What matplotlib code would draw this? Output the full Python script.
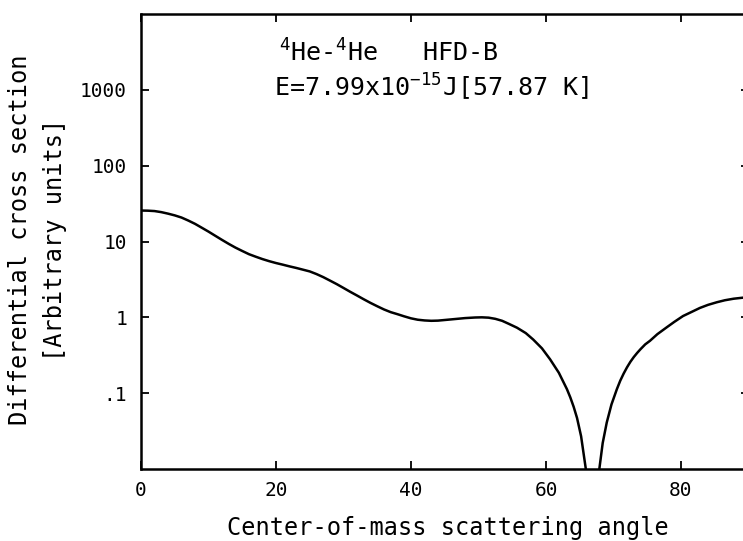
import matplotlib
matplotlib.use("Agg")
import matplotlib.pyplot as plt
import matplotlib.ticker as mticker

plt.rcParams["font.family"] = ["DejaVu Sans Mono"]
plt.rcParams["mathtext.fontset"] = "custom"
plt.rcParams["mathtext.rm"] = "DejaVu Sans Mono"
plt.rcParams["mathtext.it"] = "DejaVu Sans Mono"

# scattering angle (deg) and differential cross section (arb. units)
angle = [0, 1, 2, 3, 4, 5, 6, 7, 8, 9, 10, 11, 12, 13, 14, 15, 16, 17, 18, 19, 20,
         21, 22, 23, 24, 25, 26, 27, 28, 29, 30, 31, 32, 33, 34, 35, 36, 37, 38, 39,
         40, 41, 42, 43, 44, 46, 48, 49.5, 50.5, 51.5, 52.5, 53.5, 54.5, 55.7, 57,
         58.1, 59.4, 60.6, 61.9, 63.1, 63.6, 64.1, 64.6, 65.2, 65.9, 66.4, 66.9, 67.4,
         67.9, 68.4, 69, 69.7, 70.5, 71, 71.5, 72, 72.5, 73, 73.5, 74, 74.7, 75.4,
         76.5, 77.9, 79, 80.3, 81.5, 82.8, 84, 85.3, 86.5, 87.8, 89.5]
sigma = [25.6, 25.5, 25.2, 24.4, 23.3, 22.1, 20.7, 18.9, 17.1, 15.2, 13.5, 11.9,
         10.5, 9.3, 8.3, 7.5, 6.8, 6.3, 5.86, 5.5, 5.2, 4.95, 4.7, 4.48, 4.25, 4.03,
         3.72, 3.39, 3.05, 2.74, 2.44, 2.17, 1.94, 1.73, 1.55, 1.40, 1.27, 1.17, 1.10,
         1.03, 0.97, 0.93, 0.91, 0.90, 0.905, 0.94, 0.977, 0.995, 1.0, 0.99, 0.955,
         0.90, 0.82, 0.73, 0.62, 0.51, 0.39, 0.28, 0.186, 0.113, 0.088, 0.066, 0.047,
         0.027, 0.01, 0.003, 0.0003, 0.003, 0.01, 0.022, 0.041, 0.071, 0.113, 0.146,
         0.181, 0.219, 0.259, 0.299, 0.339, 0.38, 0.44, 0.49, 0.6, 0.74, 0.87, 1.04,
         1.17, 1.33, 1.46, 1.58, 1.68, 1.76, 1.83]

xticks = [0, 20, 40, 60, 80]
yticks = [0.1, 1, 10, 100, 1000]
ytick_labels = [".1", "1", "10", "100", "1000"]

fig = plt.figure(figsize=(7.43, 5.41), dpi=100)
ax = fig.add_axes([141 / 743, 72 / 541, 607.5 / 743, 455 / 541])

ax.plot(angle, sigma, color="black", linewidth=1.8)
ax.set_yscale("log")
ax.set_xlim(0, 90)
ax.set_ylim(0.01, 10000)

ax.set_xticks(xticks)
ax.set_xticklabels([str(t) for t in xticks], fontsize=14)
ax.set_yticks(yticks)
ax.set_yticklabels(ytick_labels, fontsize=14)
ax.yaxis.set_minor_locator(mticker.NullLocator())
ax.tick_params(direction="in", length=6, width=1.3, top=True, right=True)
ax.tick_params(axis="x", pad=9)
ax.tick_params(axis="y", pad=10)

for s in ax.spines.values():
    s.set_linewidth(1.8)

fig.text(20 / 743, 1 - 240 / 541, "Differential cross section", rotation=90,
         ha="center", va="center", fontsize=17)
fig.text(55 / 743, 1 - 240 / 541, "[Arbitrary units]", rotation=90,
         ha="center", va="center", fontsize=17)
fig.text(448 / 743, 1 - 528 / 541, "Center-of-mass scattering angle",
         ha="center", va="center", fontsize=17)

fig.text(279 / 743, 1 - 62 / 541, r"$^{4}$He-$^{4}$He   HFD-B",
         ha="left", va="baseline", fontsize=18)
fig.text(274 / 743, 1 - 97 / 541, r"E=7.99x10$^{-15}$J[57.87 K]",
         ha="left", va="baseline", fontsize=18)

fig.savefig("out.png", dpi=100, facecolor="white")
